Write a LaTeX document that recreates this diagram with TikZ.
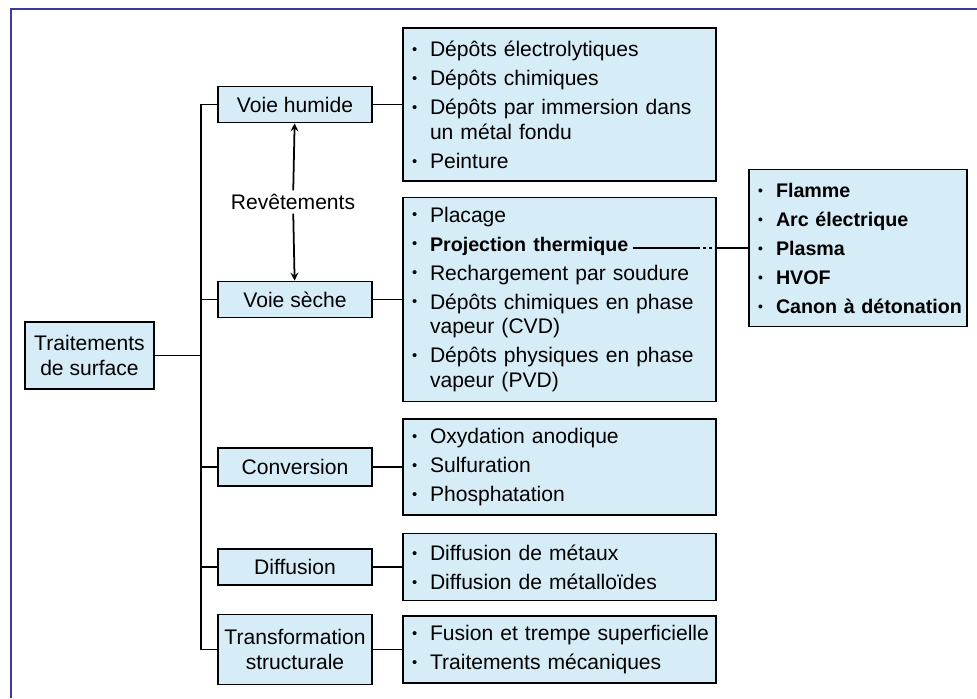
\documentclass[tikz,border=0pt]{standalone}
\usepackage{fontspec}
\setmainfont{Liberation Sans}
\usepackage{xcolor}
\usepackage{graphicx}
\usepackage{tikz}
\usetikzlibrary{shapes,arrows,positioning}

\definecolor{boxblue}{RGB}{214,237,248}
\definecolor{framecol}{RGB}{58,58,160}
\newcommand{\bul}{\hspace*{0.15cm}\makebox[0.36cm][l]{\raisebox{0.1em}{\scalebox{0.7}{\textbullet}}}}
\newcommand{\indt}{\hspace*{0.51cm}}
\newcommand{\bld}[1]{{\fontsize{11.2}{14.2}\selectfont\bfseries #1}}

\begin{document}
\begin{tikzpicture}[node distance=2cm]

\tikzstyle{family} = [rectangle, minimum width=3.08cm, minimum height=0.72cm, inner sep=1pt, align=center, draw=black, line width=1pt, fill=boxblue, font=\fontsize{12}{13.8}\selectfont]
\tikzstyle{list} = [rectangle, minimum width=6.26cm, text width=6.2cm, inner xsep=0.03cm, align=left, draw=black, line width=1pt, fill=boxblue, font=\fontsize{12}{14.2}\selectfont]
\tikzstyle{link} = [line width=1pt]
\tikzstyle{arrow} = [line width=1pt,->,>=stealth]

\useasboundingbox (0,0) rectangle (19.54,-13.96);
\draw [framecol, line width=1.2pt] (0.216,-13.96) -- (0.216,-0.174) -- (19.54,-0.174);

\node (humide) [family] at (5.9,-2.09) {Voie humide};
\node (seche) [family, below of=humide, yshift=-1.9cm] {Voie sèche};
\node (conversion) [family, below of=seche, yshift=-1.35cm, minimum height=0.76cm] {Conversion};
\node (diffusion) [family, below of=conversion] {Diffusion};
\node (transfo) [family, below of=diffusion, yshift=0.35cm, minimum height=1.4cm] {Transformation\\structurale};
\node (traitements) [family, left of=seche, xshift=-2.11cm, yshift=-1.12cm, minimum width=2.58cm, minimum height=1.34cm] {Traitements\\de surface};
\node (revet) [below of=humide, xshift=-0.04cm, yshift=0.05cm, inner ysep=2pt, font=\fontsize{12}{13.8}\selectfont] {Revêtements};

\node (humlist) [list, right of=humide, xshift=3.29cm, minimum height=3.06cm] {\bul Dépôts électrolytiques\\[2.3pt] \bul Dépôts chimiques\\[2.3pt] \bul Dépôts par immersion dans\\ \indt un métal fondu\\[2.3pt] \bul Peinture};
\node (seclist) [list, right of=seche, xshift=3.29cm, minimum height=4.08cm] {\bul Placage\\[2.3pt] \bul \bld{Projection thermique}\\[2.3pt] \bul Rechargement par soudure\\[2.3pt] \bul Dépôts chimiques en phase\\ \indt vapeur (CVD)\\[2.3pt] \bul Dépôts physiques en phase\\ \indt vapeur (PVD)};
\node (convlist) [list, right of=conversion, xshift=3.29cm, minimum height=1.92cm] {\bul Oxydation anodique\\[2.3pt] \bul Sulfuration\\[2.3pt] \bul Phosphatation};
\node (difflist) [list, right of=diffusion, xshift=3.29cm, minimum height=1.34cm] {\bul Diffusion de métaux\\[2.3pt] \bul Diffusion de métalloïdes};
\node (translist) [list, right of=transfo, xshift=3.29cm, minimum height=1.34cm] {\bul Fusion et trempe superficielle\\[2.3pt] \bul Traitements mécaniques};
\node (thermal) [list, right of=seclist, xshift=3.97cm, yshift=1.03cm, minimum width=4.36cm, text width=4.3cm, minimum height=3.14cm, font=\fontsize{11.2}{14.2}\selectfont\bfseries] {\bul Flamme\\[2.3pt] \bul Arc électrique\\[2.3pt] \bul Plasma\\[2.3pt] \bul HVOF\\[2.3pt] \bul Canon à détonation};
\node (projend) [coordinate, left of=thermal, xshift=-2.5cm] {};

\draw [link] (traitements.east) -- ++(0.92cm,0) |- (humide.west);
\draw [link] (traitements.east) -- ++(0.92cm,0) |- (seche.west);
\draw [link] (traitements.east) -- ++(0.92cm,0) |- (conversion.west);
\draw [link] (traitements.east) -- ++(0.92cm,0) |- (diffusion.west);
\draw [link] (traitements.east) -- ++(0.92cm,0) |- (transfo.west);
\draw [arrow] (revet) -- (humide);
\draw [arrow] (revet) -- (seche);
\draw [link] (humide) -- (humlist);
\draw [link] (seche) -- (seclist);
\draw [link] (conversion) -- (convlist);
\draw [link] (diffusion) -- (difflist);
\draw [link] (transfo) -- (translist);
\draw [link] (projend) -- ++(1.28cm,0) coordinate (dasha);
\draw [link, dash pattern=on 1.7pt off 1.7pt] (dasha) -- ++(0.38cm,0) coordinate (dashb);
\draw [link] (dashb) -- (thermal);

\end{tikzpicture}
\end{document}
